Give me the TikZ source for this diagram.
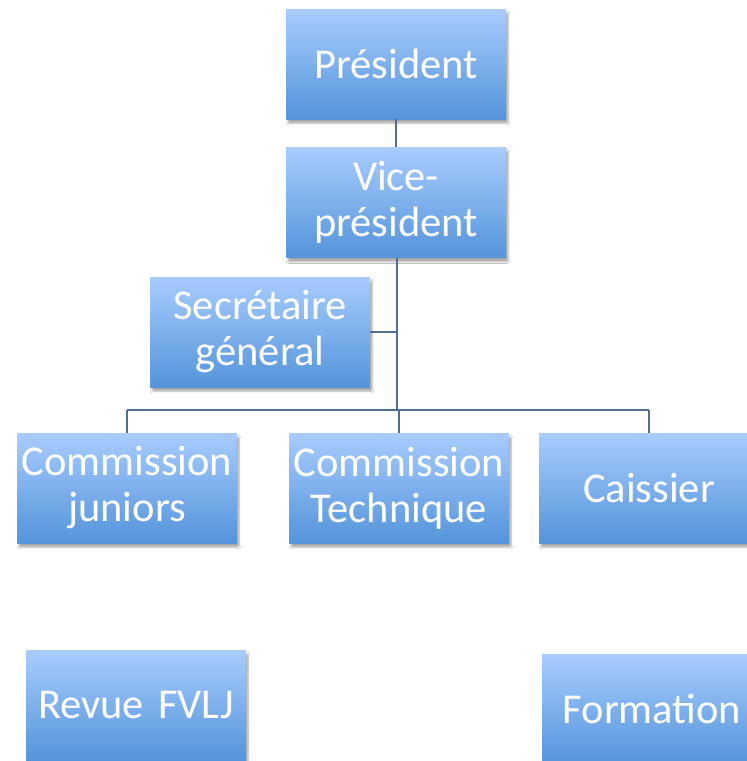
\documentclass[tikz,border=0pt]{standalone}
\usepackage{fontspec}
\setmainfont{Carlito}
\usetikzlibrary{shadows.blur}
\definecolor{boxtop}{RGB}{168,204,254}
\definecolor{boxbot}{RGB}{84,148,218}
\definecolor{linecol}{RGB}{78,110,148}
\tikzset{
  orgbox/.style={rectangle, minimum width=220pt, minimum height=110pt, inner sep=0pt,
    text width=216pt, align=center, top color=boxtop, bottom color=boxbot,
    text=white, font=\fontsize{42.5}{46}\selectfont,
    blur shadow={shadow xshift=2pt, shadow yshift=-4pt, shadow opacity=35, shadow blur steps=6, shadow blur extra rounding=1pt}},
  conn/.style={draw=linecol, line width=2pt}
}
\begin{document}
\begin{tikzpicture}[x=1pt,y=-1pt]
\useasboundingbox (0,0) rectangle (747,761);
\clip (0,0) rectangle (747,761);
\fill[white] (0,0) rectangle (747,761);
\node[orgbox] (pres) at (396,64) {Président};
\node[orgbox] (vp) at (396,202.5) {Vice-\\président};
\node[orgbox] (sec) at (260,332) {Secrétaire\\général};
\node[orgbox] (cj) at (127,488) {Commission\\juniors};
\node[orgbox] (ct) at (399,488) {Commission\\Technique};
\node[orgbox] (cai) at (649,488) {Caissier};
\node[orgbox] (rev) at (136,705) {Revue FVLJ};
\node[orgbox] (form) at (652,709) {Formation};
\coordinate (busmid) at (397,410);
\coordinate (busl) at (127,410);
\coordinate (busr) at (649,410);
\draw[conn] (pres.south) -- (vp.north);
\draw[conn] (vp.south -| busmid) -- (busmid);
\draw[conn] (sec.east) -- (sec.east -| busmid);
\draw[conn] (busl) -- (busr);
\draw[conn] (busl) -- (cj.north);
\draw[conn] (ct.north) -- (ct.north |- busmid);
\draw[conn] (busr) -- (cai.north);
\end{tikzpicture}
\end{document}
